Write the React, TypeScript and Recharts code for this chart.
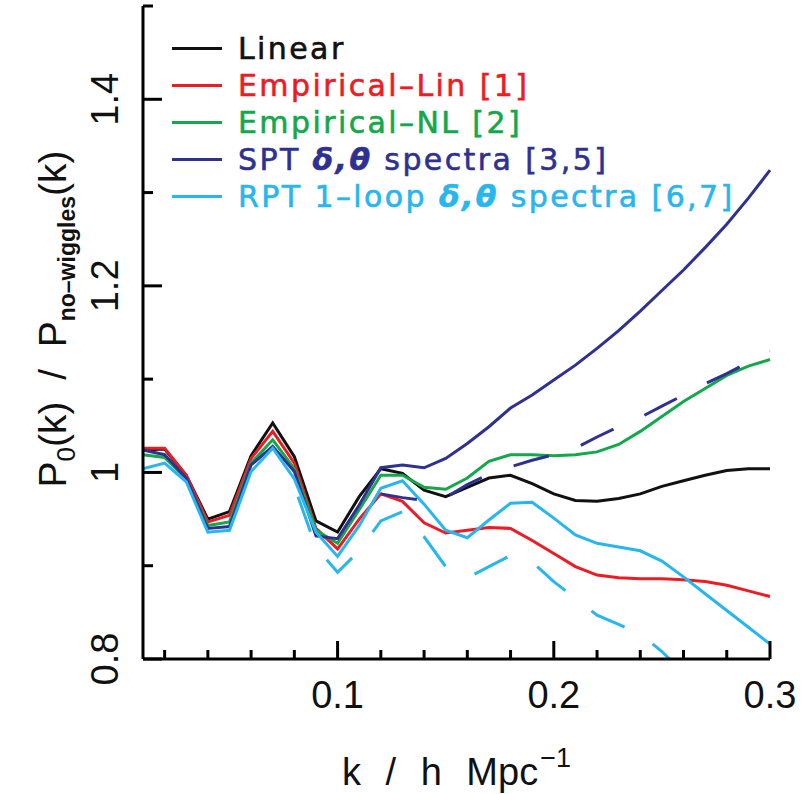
import { LineChart, Line, XAxis, YAxis, Legend } from 'recharts'

// k in h/Mpc
const K = [
  0.01, 0.02, 0.03, 0.04, 0.05, 0.06, 0.07, 0.08, 0.09, 0.1,
  0.11, 0.12, 0.13, 0.14, 0.15, 0.16, 0.17, 0.18, 0.19, 0.2,
  0.21, 0.22, 0.23, 0.24, 0.25, 0.26, 0.27, 0.28, 0.29, 0.3,
]

const linear = [
  1.024, 1.025, 0.997, 0.95, 0.958, 1.018, 1.053, 1.017, 0.948, 0.936,
  0.974, 1.004, 0.999, 0.981, 0.974, 0.984, 0.994, 0.997, 0.988, 0.977,
  0.97, 0.969, 0.972, 0.977, 0.985, 0.991, 0.997, 1.002, 1.004, 1.004,
]
const empLin = [
  1.026, 1.026, 0.997, 0.947, 0.954, 1.015, 1.044, 1.01, 0.94, 0.918,
  0.95, 0.977, 0.969, 0.946, 0.935, 0.938, 0.941, 0.94, 0.927, 0.913,
  0.899, 0.89, 0.887, 0.886, 0.886, 0.885, 0.883, 0.879, 0.873, 0.867,
]
const empNL = [
  1.019, 1.016, 0.993, 0.943, 0.947, 1.01, 1.035, 1.004, 0.938, 0.924,
  0.96, 0.997, 0.997, 0.984, 0.982, 0.994, 1.012, 1.019, 1.019, 1.018,
  1.019, 1.022, 1.03, 1.044, 1.06, 1.076, 1.09, 1.104, 1.114, 1.121,
]
const spt = [
  1.024, 1.019, 0.994, 0.94, 0.942, 1.008, 1.028, 1.001, 0.932, 0.929,
  0.965, 1.005, 1.008, 1.005, 1.015, 1.031, 1.049, 1.069, 1.083, 1.099,
  1.115, 1.133, 1.152, 1.173, 1.195, 1.217, 1.241, 1.266, 1.294, 1.324,
]
const rpt = [
  1.004, 1.01, 0.99, 0.936, 0.938, 1.001, 1.026, 0.993, 0.936, 0.91,
  0.943, 0.983, 0.991, 0.966, 0.938, 0.93, 0.949, 0.967, 0.968, 0.951,
  0.933, 0.924, 0.92, 0.916, 0.905, 0.888, 0.87, 0.852, 0.834, 0.816,
]
// dashed variants (start later, null = not drawn)
const sptDash = [
  null, null, null, null, null, null, null, null, null, null,
  null, 0.977, 0.973, 0.97, 0.973, 0.987, 0.998, 1.006, 1.013, 1.019,
  1.026, 1.038, 1.049, 1.059, 1.071, 1.083, 1.095, 1.106, 1.118, 1.13,
]
const rptDash = [
  null, null, null, null, null, null, null, 0.985, 0.92, 0.893,
  0.916, 0.948, 0.958, 0.931, 0.899, 0.887, 0.899, 0.911, 0.904, 0.883,
  0.865, 0.847, 0.837, 0.827, 0.808, 0.785, 0.765, null, null, null,
]

const xTicks = [0.02, 0.04, 0.06, 0.08, 0.1, 0.12, 0.14, 0.16, 0.18, 0.2, 0.22, 0.24, 0.26, 0.28, 0.3]
const xLabelTicks = [0.1, 0.2, 0.3]
const xLabels = ['0.1', '0.2', '0.3']
const yTicks = [0.8, 0.9, 1.0, 1.1, 1.2, 1.3, 1.4, 1.5]
const yLabelTicks = [0.8, 1.0, 1.2, 1.4]
const yLabels = ['0.8', '1', '1.2', '1.4']

const BLACK = '#111111'
const RED = '#ed1c24'
const GREEN = '#13a84a'
const NAVY = '#2e3192'
const CYAN = '#27b6ee'

const legendItems = [
  { name: 'Linear', color: BLACK },
  { name: 'Empirical\u2013Lin [1]', color: RED },
  { name: 'Empirical\u2013NL [2]', color: GREEN },
  { name: 'SPT δ,θ spectra [3,5]', color: NAVY },
  { name: 'RPT 1\u2013loop δ,θ spectra [6,7]', color: CYAN },
]

const data = K.map((k, i) => ({
  k,
  linear: linear[i],
  empLin: empLin[i],
  empNL: empNL[i],
  spt: spt[i],
  rpt: rpt[i],
  sptDash: sptDash[i],
  rptDash: rptDash[i],
}))

const FONT = '"Liberation Sans", Arial, Helvetica, sans-serif'
const near = (a: number, b: number) => Math.abs(a - b) < 1e-6

function labelFor(v: number, ticks: number[], labels: string[]) {
  const i = ticks.findIndex((t) => near(t, v))
  return i >= 0 ? labels[i] : null
}

function BottomTick({ x, y, payload }: any) {
  const lab = labelFor(payload.value, xLabelTicks, xLabels)
  return (
    <g>
      <line x1={x} x2={x} y1={y} y2={y - (lab ? 18 : 9)} stroke="#000" strokeWidth={3} />
      {lab && (
        <text x={x} y={y + 49} textAnchor="middle" fontSize={38} fontFamily={FONT} fill="#111">
          {lab}
        </text>
      )}
    </g>
  )
}

function TopTick({ x, y, payload }: any) {
  const major = labelFor(payload.value, xLabelTicks, xLabels)
  return <line x1={x} x2={x} y1={y} y2={y + (major ? 18 : 9)} stroke="#000" strokeWidth={3} />
}

function LeftTick({ x, y, payload }: any) {
  const lab = labelFor(payload.value, yLabelTicks, yLabels)
  return (
    <g>
      <line x1={x} x2={x + (lab ? 19 : 10)} y1={y} y2={y} stroke="#000" strokeWidth={3} />
      {lab && (
        <text
          x={118}
          y={y}
          transform={`rotate(-90, 118, ${y})`}
          textAnchor="middle"
          fontSize={38}
          fontFamily={FONT}
          fill="#111"
        >
          {lab}
        </text>
      )}
    </g>
  )
}

function RightTick({ x, y, payload }: any) {
  const major = labelFor(payload.value, yLabelTicks, yLabels)
  return <line x1={x} x2={x - (major ? 19 : 10)} y1={y} y2={y} stroke="#000" strokeWidth={3} />
}

function YTitle() {
  return (
    <text
      x={66}
      y={319}
      transform="rotate(-90, 66, 319)"
      textAnchor="middle"
      fontSize={39}
      fontFamily={FONT}
      fill="#111"
      style={{ whiteSpace: 'pre' }}
    >
      P<tspan fontSize={26} dy={9}>0</tspan>
      <tspan dy={-9}>(k)  /  P</tspan>
      <tspan fontSize={23} dy={9} fontWeight="bold">no{'\u2013'}wiggles</tspan>
      <tspan dy={-9}>(k)</tspan>
    </text>
  )
}

function XTitle() {
  return (
    <text x={342} y={785} fontSize={38} fontFamily={FONT} fill="#111" wordSpacing={14}>
      k / h Mpc
      <tspan fontSize={27} dy={-18} dx={2}>{'\u2212'}1</tspan>
    </text>
  )
}

function renderName(name: string) {
  const parts = name.split('δ,θ')
  if (parts.length === 1) return name
  return (
    <>
      {parts[0]}
      <i style={{ fontWeight: 'bold' }}>δ,θ</i>
      {parts[1]}
    </>
  )
}

function LegendBox() {
  return (
    <div style={{ fontFamily: '"DejaVu Sans", sans-serif', fontSize: 30, letterSpacing: 2.4 }}>
      {legendItems.map((it) => (
        <div key={it.name} style={{ display: 'flex', alignItems: 'center', height: 37, whiteSpace: 'nowrap' }}>
          <span style={{ display: 'inline-block', width: 50, height: 3, background: it.color }} />
          <span
            style={{
              color: it.color,
              marginLeft: 16,
              lineHeight: '37px',
              WebkitTextStroke: `0.6px ${it.color}`,
            }}
          >
            {renderName(it.name)}
          </span>
        </div>
      ))}
    </div>
  )
}

const lineProps = { type: 'linear' as const, strokeWidth: 3, dot: false, activeDot: false, isAnimationActive: false }

export default function App() {
  return (
    <div style={{ position: 'absolute', left: 0, top: 0, background: '#fff' }}>
      <LineChart width={808} height={794} data={data} margin={{ top: 6, right: 38, bottom: 0, left: 0 }}>
        <XAxis
          dataKey="k"
          type="number"
          domain={[0.01, 0.3]}
          ticks={xTicks}
          interval={0}
          height={135}
          tickSize={0}
          tickMargin={0}
          tickLine={false}
          axisLine={{ stroke: '#000', strokeWidth: 3 }}
          tick={<BottomTick />}
          label={XTitle}
        />
        <XAxis
          xAxisId="top"
          orientation="top"
          dataKey="k"
          type="number"
          domain={[0.01, 0.3]}
          ticks={xTicks}
          interval={0}
          height={0}
          tickSize={0}
          tickMargin={0}
          tickLine={false}
          axisLine={{ stroke: '#000', strokeWidth: 3 }}
          tick={<TopTick />}
        />
        <YAxis
          type="number"
          domain={[0.8, 1.5]}
          allowDataOverflow
          ticks={yTicks}
          interval={0}
          width={143}
          tickSize={0}
          tickMargin={0}
          tickLine={false}
          axisLine={{ stroke: '#000', strokeWidth: 3 }}
          tick={<LeftTick />}
          label={YTitle}
        />
        <YAxis
          yAxisId="right"
          orientation="right"
          type="number"
          domain={[0.8, 1.5]}
          allowDataOverflow
          ticks={yTicks}
          interval={0}
          width={0}
          tickSize={0}
          tickMargin={0}
          tickLine={false}
          axisLine={{ stroke: '#000', strokeWidth: 3 }}
          tick={<RightTick />}
        />
        <Legend
          layout="horizontal"
          verticalAlign="middle"
          align="center"
          wrapperStyle={{ top: 30, left: 172, width: 620 }}
          content={() => <LegendBox />}
        />
        <Line {...lineProps} dataKey="linear" stroke={BLACK} />
        <Line {...lineProps} dataKey="empLin" stroke={RED} />
        <Line {...lineProps} dataKey="empNL" stroke={GREEN} />
        <Line {...lineProps} dataKey="spt" stroke={NAVY} />
        <Line {...lineProps} dataKey="rpt" stroke={CYAN} />
        <Line {...lineProps} dataKey="sptDash" stroke={NAVY} strokeDasharray="36.5 33.9" />
        <Line {...lineProps} dataKey="rptDash" stroke={CYAN} strokeDasharray="37 33" strokeDashoffset={59} />
      </LineChart>
    </div>
  )
}
